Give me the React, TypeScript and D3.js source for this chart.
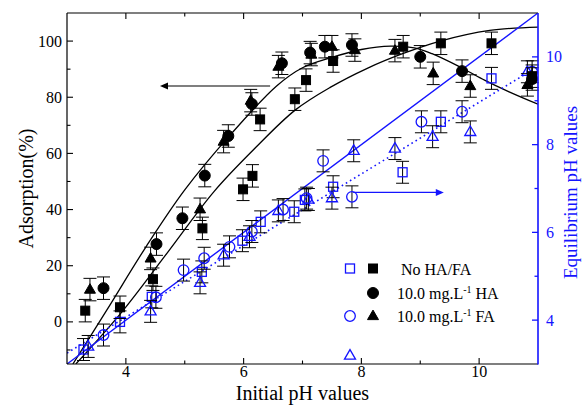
import React from "react";
import * as d3 from "d3";

// ---------- data ----------
const xTicks = [4, 6, 8, 10];
const xMinor = [5, 7, 9];
const yLeftTicks = [0, 20, 40, 60, 80, 100];
const yLeftMinor = [-10, 10, 30, 50, 70, 90];
const yRightTicks = [4, 6, 8, 10];
const yRightMinor = [5, 7, 9];

// Adsorption (%) – left axis, filled black markers
const adsNoPH = [3.31, 3.9, 4.46, 5.3, 5.99, 6.15, 6.28, 6.87, 7.06, 7.52, 8.71, 9.35, 10.21, 10.9];
const adsNo = [4, 5.2, 15.2, 33.3, 47.2, 52, 72.1, 79.3, 86.1, 92.9, 98, 99.2, 99.2, 87.5];
const adsHAPH = [3.62, 4.52, 4.96, 5.34, 5.74, 6.14, 6.65, 7.13, 7.38, 7.84, 9.0, 9.71, 10.9];
const adsHA = [12, 27.7, 36.9, 52.1, 66.2, 77.6, 92.1, 95.9, 98, 98.6, 94.4, 89.3, 86.5];
const adsFAPH = [3.39, 4.42, 5.26, 5.66, 6.12, 6.59, 7.15, 7.5, 7.89, 8.57, 9.22, 9.85, 10.82];
const adsFA = [11.5, 22.6, 40.1, 64.2, 78.8, 90.9, 95.2, 98, 96.8, 96.6, 88.5, 84, 84.4];

// Equilibrium pH – right axis, hollow blue markers
const eqNoPH = [3.28, 3.9, 4.44, 5.29, 5.98, 6.29, 6.86, 7.04, 7.52, 8.7, 9.35, 10.21];
const eqNo = [3.33, 3.96, 4.53, 5.1, 5.81, 6.24, 6.47, 6.74, 7.04, 7.37, 8.52, 9.51];
const eqHAPH = [3.62, 4.51, 4.98, 5.33, 5.76, 6.14, 6.67, 7.07, 7.35, 7.84, 9.02, 9.71, 10.9];
const eqHA = [3.66, 4.52, 5.14, 5.41, 5.67, 6.02, 6.52, 6.78, 7.63, 6.81, 8.52, 8.75, 9.66];
const eqFAPH = [3.36, 4.42, 5.26, 5.66, 6.1, 6.59, 7.1, 7.5, 7.87, 8.57, 9.21, 9.85, 10.82];
const eqFA = [3.4, 4.2, 4.85, 5.48, 5.9, 6.49, 6.75, 6.78, 7.86, 7.91, 8.18, 8.29, 9.66];

// error magnitudes
const adsErr = 4;
const eqErr = 0.25;

// fitted curves
const fitUpPH = [3.1, 3.67, 4.35, 5.0, 5.77, 6.56, 7.0, 7.47, 8.0, 8.5, 8.9, 9.2, 9.7, 10.1, 10.5, 11];
const fitUp = [-15, 4, 27, 47, 66.5, 84, 90.5, 94, 97, 98.2, 97.6, 95.5, 90.5, 86, 82, 77.5];
const fitLowPH = [3.15, 3.93, 4.7, 5.5, 6.2, 6.88, 7.47, 8.1, 8.7, 9.34, 10.18, 11];
const fitLow = [-15, 3.5, 24.5, 46.5, 62, 75.5, 83.5, 90.3, 95.5, 100, 103.8, 105];
const eqFitPH = [3, 10.9];
const eqFit = [3.25, 9.7];
const diagPH = [3, 11];
const diag = [3, 11];

// arrows
const blackArrowPH = [6.45, 4.58];
const blackArrowY = 84;
const blueArrowPH = [7.86, 9.4];
const blueArrowY = 6.91;

const legendLabels = ["No HA/FA", "10.0 mg.L", "10.0 mg.L"];

// ---------- layout ----------
const W = 582, H = 405;
const L = 67, R = 538, T = 13, B = 364;
const BLUE = "#1414ff";
const FONT = "'Liberation Serif', 'Times New Roman', serif";

const x = d3.scaleLinear().domain([3, 11]).range([L, R]);
const yL = d3.scaleLinear().domain([-15, 110]).range([B, T]);
const yR = d3.scaleLinear().domain([3, 11]).range([B, T]);

type Shape = "square" | "circle" | "triangle";

function Marker({ cx, cy, shape, filled }: { cx: number; cy: number; shape: Shape; filled: boolean }) {
  const stroke = filled ? "#000" : BLUE;
  const sw = filled ? 1 : 1.3;
  if (shape === "square") {
    const s = 9;
    return <rect x={cx - s / 2} y={cy - s / 2} width={s} height={s} fill={filled ? "#000" : "none"} stroke={stroke} strokeWidth={sw} />;
  }
  if (shape === "circle") {
    return <circle cx={cx} cy={cy} r={filled ? 5.5 : 5.3} fill={filled ? "#000" : "none"} stroke={stroke} strokeWidth={sw} />;
  }
  const s = 11;
  const h = s * 0.866;
  const p = `M${cx},${cy - h * 0.62} L${cx + s / 2},${cy + h * 0.38} L${cx - s / 2},${cy + h * 0.38} Z`;
  return <path d={p} fill={filled ? "#000" : "none"} stroke={stroke} strokeWidth={sw} />;
}

function ErrBar({ cx, y1, y2 }: { cx: number; y1: number; y2: number }) {
  const c = 6.5;
  return (
    <g stroke="#000" strokeWidth={1}>
      <line x1={cx} x2={cx} y1={y1} y2={y2} />
      <line x1={cx - c} x2={cx + c} y1={y1} y2={y1} />
      <line x1={cx - c} x2={cx + c} y1={y2} y2={y2} />
    </g>
  );
}

function Series({ xs, ys, scale, err, shape, filled }: { xs: number[]; ys: number[]; scale: d3.ScaleLinear<number, number>; err: number; shape: Shape; filled: boolean }) {
  return (
    <g>
      {xs.map((v, i) => (
        <ErrBar key={"e" + i} cx={x(v)} y1={scale(ys[i] + err)} y2={scale(ys[i] - err)} />
      ))}
      {xs.map((v, i) => (
        <Marker key={"m" + i} cx={x(v)} cy={scale(ys[i])} shape={shape} filled={filled} />
      ))}
    </g>
  );
}

export default function App() {
  const lineL = d3.line<[number, number]>().x((d) => x(d[0])).y((d) => yL(d[1])).curve(d3.curveCatmullRom.alpha(0.5));
  const lineR = d3.line<[number, number]>().x((d) => x(d[0])).y((d) => yR(d[1]));
  const up = lineL(fitUpPH.map((v, i) => [v, fitUp[i]] as [number, number]));
  const low = lineL(fitLowPH.map((v, i) => [v, fitLow[i]] as [number, number]));
  const eqLine = lineR(eqFitPH.map((v, i) => [v, eqFit[i]] as [number, number]));
  const diagLine = lineR(diagPH.map((v, i) => [v, diag[i]] as [number, number]));

  const majorLen = 6, minorLen = 3.5;

  return (
    <svg width={W} height={H} style={{ position: "absolute", left: 0, top: 0, background: "white" }} fontFamily={FONT}>
      <defs>
        <clipPath id="plotclip">
          <rect x={L} y={T} width={R - L} height={B - T} />
        </clipPath>
      </defs>

      {/* curves */}
      <g clipPath="url(#plotclip)" fill="none">
        <path d={up || ""} stroke="#000" strokeWidth={1.3} />
        <path d={low || ""} stroke="#000" strokeWidth={1.3} />
        <path d={diagLine || ""} stroke={BLUE} strokeWidth={1.4} />
        <path d={eqLine || ""} stroke={BLUE} strokeWidth={1.6} strokeDasharray="1.6 3.2" />
      </g>

      {/* series */}
      <Series xs={eqNoPH} ys={eqNo} scale={yR} err={eqErr} shape="square" filled={false} />
      <Series xs={eqHAPH} ys={eqHA} scale={yR} err={eqErr} shape="circle" filled={false} />
      <Series xs={eqFAPH} ys={eqFA} scale={yR} err={eqErr} shape="triangle" filled={false} />
      <Series xs={adsNoPH} ys={adsNo} scale={yL} err={adsErr} shape="square" filled={true} />
      <Series xs={adsHAPH} ys={adsHA} scale={yL} err={adsErr} shape="circle" filled={true} />
      <Series xs={adsFAPH} ys={adsFA} scale={yL} err={adsErr} shape="triangle" filled={true} />

      {/* arrows */}
      <g>
        <line x1={x(blackArrowPH[0])} x2={x(blackArrowPH[1]) + 7} y1={yL(blackArrowY)} y2={yL(blackArrowY)} stroke="#000" strokeWidth={1.2} />
        <path d={`M${x(blackArrowPH[1])},${yL(blackArrowY)} l8,-3.5 l0,7 Z`} fill="#000" />
        <line x1={x(blueArrowPH[0])} x2={x(blueArrowPH[1]) - 7} y1={yR(blueArrowY)} y2={yR(blueArrowY)} stroke={BLUE} strokeWidth={1.2} />
        <path d={`M${x(blueArrowPH[1])},${yR(blueArrowY)} l-8,-3.5 l0,7 Z`} fill={BLUE} />
      </g>

      {/* axes frame */}
      <line x1={L} x2={R} y1={T} y2={T} stroke="#000" strokeWidth={1.2} />
      <line x1={L} x2={R} y1={B} y2={B} stroke="#000" strokeWidth={1.2} />
      <line x1={L} x2={L} y1={T} y2={B} stroke="#000" strokeWidth={1.2} />
      <line x1={R} x2={R} y1={T} y2={B + 0.6} stroke={BLUE} strokeWidth={1.6} />

      {/* x ticks (bottom & top, inward) */}
      {xTicks.map((t) => (
        <g key={"xt" + t}>
          <line x1={x(t)} x2={x(t)} y1={B} y2={B - majorLen} stroke="#000" strokeWidth={1.1} />
          <line x1={x(t)} x2={x(t)} y1={T} y2={T + majorLen} stroke="#000" strokeWidth={1.1} />
          <text x={x(t)} y={377} fontSize={16} textAnchor="middle" fill="#000">{t}</text>
        </g>
      ))}
      {xMinor.map((t) => (
        <g key={"xm" + t}>
          <line x1={x(t)} x2={x(t)} y1={B} y2={B - minorLen} stroke="#000" strokeWidth={1.1} />
          <line x1={x(t)} x2={x(t)} y1={T} y2={T + minorLen} stroke="#000" strokeWidth={1.1} />
        </g>
      ))}

      {/* left ticks */}
      {yLeftTicks.map((t) => (
        <g key={"yl" + t}>
          <line x1={L} x2={L + majorLen} y1={yL(t)} y2={yL(t)} stroke="#000" strokeWidth={1.1} />
          <text x={L - 5} y={yL(t) + 5.5} fontSize={16} textAnchor="end" fill="#000">{t}</text>
        </g>
      ))}
      {yLeftMinor.map((t) => (
        <line key={"ylm" + t} x1={L} x2={L + minorLen} y1={yL(t)} y2={yL(t)} stroke="#000" strokeWidth={1.1} />
      ))}

      {/* right ticks */}
      {yRightTicks.map((t) => (
        <g key={"yr" + t}>
          <line x1={R} x2={R - majorLen} y1={yR(t)} y2={yR(t)} stroke={BLUE} strokeWidth={1.3} />
          <text x={R + 8} y={yR(t) + 5.5} fontSize={16} textAnchor="start" fill={BLUE}>{t}</text>
        </g>
      ))}
      {yRightMinor.map((t) => (
        <line key={"yrm" + t} x1={R} x2={R - minorLen} y1={yR(t)} y2={yR(t)} stroke={BLUE} strokeWidth={1.3} />
      ))}

      {/* axis titles */}
      <text x={W / 2 + 11.5} y={400} fontSize={20} textAnchor="middle" fill="#000">Initial pH values</text>
      <text transform={`translate(33,${(T + B) / 2}) rotate(-90)`} fontSize={20} textAnchor="middle" fill="#000">Adsorption(%)</text>
      <text transform={`translate(577,${(T + B) / 2 + 4}) rotate(-90)`} fontSize={19} textAnchor="middle" fill={BLUE}>Equilibrium pH values</text>

      {/* legend */}
      <g>
        <Marker cx={350} cy={268.5} shape="square" filled={false} />
        <Marker cx={373} cy={268.5} shape="square" filled={true} />
        <text x={401} y={274.5} fontSize={16} fill="#000">{legendLabels[0]}</text>

        <Marker cx={373} cy={293} shape="circle" filled={true} />
        <text x={397} y={299} fontSize={16} fill="#000">
          {legendLabels[1]}
          <tspan dy={-6} fontSize={10}>-1</tspan>
          <tspan dy={6}> HA</tspan>
        </text>

        <Marker cx={350} cy={316} shape="circle" filled={false} />
        <Marker cx={373} cy={316} shape="triangle" filled={true} />
        <text x={397} y={322} fontSize={16} fill="#000">
          {legendLabels[2]}
          <tspan dy={-6} fontSize={10}>-1</tspan>
          <tspan dy={6}> FA</tspan>
        </text>

        <Marker cx={350} cy={355.5} shape="triangle" filled={false} />
      </g>
    </svg>
  );
}
